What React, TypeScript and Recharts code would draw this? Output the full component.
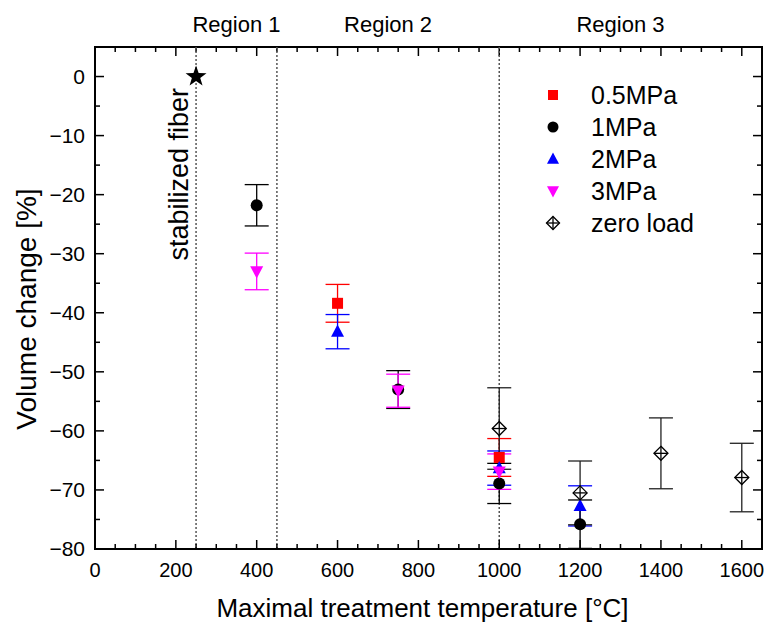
import React from 'react';
import {
  ScatterChart, Scatter, XAxis, YAxis, ErrorBar, ReferenceLine,
} from 'recharts';

const FONT = '"Liberation Sans", Arial, Helvetica, sans-serif';

// 0.5 MPa
const temps05 = [600, 1000];
const vol05 = [-38.4, -64.5];
const err05 = [3.2, 3.2];

// 1 MPa
const temps1 = [400, 750, 1000, 1200];
const vol1 = [-21.8, -53.0, -68.9, -75.8];
const err1 = [3.5, 3.2, 3.4, 4.1];

// 2 MPa
const temps2 = [600, 1000, 1200];
const vol2 = [-43.2, -66.3, -72.7];
const err2 = [2.9, 2.9, 3.4];

// 3 MPa
const temps3 = [400, 750, 1000];
const vol3 = [-33.0, -53.2, -66.9];
const err3 = [3.1, 2.8, 3.0];

// zero load
const tempsZero = [1000, 1200, 1400, 1600];
const volZero = [-59.6, -70.5, -63.8, -67.9];
const errZero = [6.9, 5.4, 6.0, 5.8];

// stabilized fiber
const tempsStab = [250];
const volStab = [0];

const regionBounds = [250, 450, 1000, 1600];
const regionNames = ['Region 1', 'Region 2', 'Region 3'];

const xDomain = [0, 1650];
const yDomain = [-80, 5];
const xLabels = [0, 200, 400, 600, 800, 1000, 1200, 1400, 1600];
const yLabels = [0, -10, -20, -30, -40, -50, -60, -70, -80];
const xTicks = Array.from({ length: 34 }, (_, i) => i * 50);
const yTicks = Array.from({ length: 18 }, (_, i) => 5 - i * 5);

// plot box (frame) placement in pixels
const PLOT_L = 95;
const PLOT_T = 47;
const PLOT_W = 667;
const PLOT_H = 502;
const xPx = (v: number) => PLOT_L + ((v - xDomain[0]) / (xDomain[1] - xDomain[0])) * PLOT_W;
const yPx = (v: number) => PLOT_T + ((yDomain[1] - v) / (yDomain[1] - yDomain[0])) * PLOT_H;

const zip = (t: number[], v: number[], e?: number[]) =>
  t.map((x, i) => ({ t: x, v: v[i], err: e ? e[i] : 0 }));

const fmt = (v: number) => (v < 0 ? `\u2212${Math.abs(v)}` : `${v}`);

const RED = '#ff0000';
const BLUE = '#0000ff';
const MAGENTA = '#ff00ff';

const square = (c: string, s: number) => (cx: number, cy: number) => (
  <rect x={cx - s / 2} y={cy - s / 2} width={s} height={s} fill={c} />
);
const circle = (c: string, s: number) => (cx: number, cy: number) => (
  <circle cx={cx} cy={cy} r={s / 2} fill={c} />
);
const triUp = (c: string, s: number) => (cx: number, cy: number) => (
  <polygon points={`${cx},${cy - s * 0.55} ${cx + s / 2},${cy + s * 0.4} ${cx - s / 2},${cy + s * 0.4}`} fill={c} />
);
const triDown = (c: string, s: number) => (cx: number, cy: number) => (
  <polygon points={`${cx},${cy + s * 0.55} ${cx + s / 2},${cy - s * 0.4} ${cx - s / 2},${cy - s * 0.4}`} fill={c} />
);
const diamondCross = (c: string, s: number) => (cx: number, cy: number) => (
  <g stroke={c} strokeWidth={1.3} fill="#fff">
    <polygon points={`${cx},${cy - s / 2} ${cx + s / 2},${cy} ${cx},${cy + s / 2} ${cx - s / 2},${cy}`} />
    <line x1={cx - s / 2} x2={cx + s / 2} y1={cy} y2={cy} />
    <line x1={cx} x2={cx} y1={cy - s / 2} y2={cy + s / 2} />
  </g>
);
const star = (c: string, r: number) => (cx: number, cy: number) => {
  const pts = Array.from({ length: 10 }, (_, i) => {
    const a = -Math.PI / 2 + (i * Math.PI) / 5;
    const rr = i % 2 === 0 ? r : r * 0.4;
    return `${cx + rr * Math.cos(a)},${cy + rr * Math.sin(a)}`;
  }).join(' ');
  return <polygon points={pts} fill={c} />;
};

const series = [
  { name: '0.5MPa', data: zip(temps05, vol05, err05), color: RED, plot: square(RED, 11), icon: square(RED, 10) },
  { name: '1MPa', data: zip(temps1, vol1, err1), color: '#000', plot: circle('#000', 12), icon: circle('#000', 11) },
  { name: '2MPa', data: zip(temps2, vol2, err2), color: BLUE, plot: triUp(BLUE, 13), icon: triUp(BLUE, 12) },
  { name: '3MPa', data: zip(temps3, vol3, err3), color: MAGENTA, plot: triDown(MAGENTA, 13), icon: triDown(MAGENTA, 12) },
  { name: 'zero load', data: zip(tempsZero, volZero, errZero), color: '#222', plot: diamondCross('#000', 14), icon: diamondCross('#000', 13) },
];

// ticks point inward; labels on bottom and left
const BottomTick = ({ x, y, payload }: any) => {
  const v = payload.value;
  const len = v % 200 === 0 ? 9 : 5;
  return (
    <g>
      <line x1={x} x2={x} y1={y} y2={y - len} stroke="#000" strokeWidth={1.5} />
      {xLabels.includes(v) && (
        <text x={x} y={y + 28} textAnchor="middle" fontSize={20} fontFamily={FONT} fill="#000">{v}</text>
      )}
    </g>
  );
};
const LeftTick = ({ x, y, payload }: any) => {
  const v = payload.value;
  const len = v % 10 === 0 ? 9 : 5;
  return (
    <g>
      <line x1={x} x2={x + len} y1={y} y2={y} stroke="#000" strokeWidth={1.5} />
      {yLabels.includes(v) && (
        <text x={x - 10} y={y} dy="0.35em" textAnchor="end" fontSize={21} fontFamily={FONT} fill="#000">{fmt(v)}</text>
      )}
    </g>
  );
};

const stabX = xPx(regionBounds[0]) - 8;
const stabY = PLOT_T + 41;

export default function App() {
  return (
    <div style={{ position: 'absolute', left: 0, top: 0, width: 766, height: 628, background: '#fff' }}>
      <ScatterChart width={766} height={628} margin={{ top: PLOT_T, right: 4, bottom: 10, left: 10 }}>
        <XAxis
          dataKey="t" type="number" domain={xDomain} ticks={xTicks} interval={0}
          height={69} tickSize={0} tickMargin={0} tickLine={false}
          axisLine={{ stroke: '#000', strokeWidth: 2 }} tick={<BottomTick />}
        />
        <YAxis
          dataKey="v" type="number" domain={yDomain} ticks={yTicks} interval={0}
          width={85} tickSize={0} tickMargin={0} tickLine={false}
          axisLine={{ stroke: '#000', strokeWidth: 2 }} tick={<LeftTick />}
        />
        {regionBounds.slice(0, 3).map((b) => (
          <ReferenceLine key={b} x={b} stroke="#555" strokeWidth={1.5} strokeDasharray="2 2" />
        ))}
        <Scatter
          name="stabilized fiber" data={zip(tempsStab, volStab)} fill="#000"
          isAnimationActive={false} shape={(p: any) => star('#000', 11)(p.cx, p.cy)}
        />
        {series.map((s) => (
          <Scatter
            key={s.name} name={s.name} data={s.data} fill={s.color} isAnimationActive={false}
            shape={(p: any) => s.plot(p.cx, p.cy)}
          >
            <ErrorBar dataKey="err" direction="y" width={12} stroke={s.color} strokeWidth={1.3} isAnimationActive={false} />
          </Scatter>
        ))}
        {/* top and right edges of the frame, with inward mirrored ticks */}
        <rect x={PLOT_L} y={PLOT_T} width={PLOT_W} height={PLOT_H} fill="none" stroke="#000" strokeWidth={2} />
        {xTicks.map((t) => (
          <line
            key={`tx${t}`} x1={xPx(t)} x2={xPx(t)} y1={PLOT_T} y2={PLOT_T + (t % 200 === 0 ? 9 : 5)}
            stroke="#000" strokeWidth={1.5}
          />
        ))}
        {yTicks.map((t) => (
          <line
            key={`ty${t}`} x1={PLOT_L + PLOT_W} x2={PLOT_L + PLOT_W - (t % 10 === 0 ? 9 : 5)} y1={yPx(t)} y2={yPx(t)}
            stroke="#000" strokeWidth={1.5}
          />
        ))}
        {regionNames.map((name, i) => (
          <text
            key={name} x={xPx((regionBounds[i] + regionBounds[i + 1]) / 2)} y={PLOT_T - 15}
            textAnchor="middle" fontSize={22} fontFamily={FONT} fill="#000"
          >
            {name}
          </text>
        ))}
        <text
          x={stabX} y={stabY} transform={`rotate(-90 ${stabX} ${stabY})`}
          textAnchor="end" fontSize={27} fontFamily={FONT} fill="#000"
        >
          stabilized fiber
        </text>
      </ScatterChart>
      <div style={{ position: 'absolute', left: 541, top: 79, fontFamily: FONT, fontSize: 25, color: '#000' }}>
        {series.map((s) => (
          <div key={s.name} style={{ display: 'flex', alignItems: 'center', height: 32 }}>
            <svg width={24} height={24} style={{ marginRight: 26 }}>{s.icon(12, 12)}</svg>
            <span>{s.name}</span>
          </div>
        ))}
      </div>
      <div style={{ position: 'absolute', left: 0, top: 309, width: 0, height: 0 }}>
        <div
          style={{
            position: 'absolute', left: 27, top: 0, transform: 'translate(-50%, -50%) rotate(-90deg)',
            whiteSpace: 'nowrap', fontFamily: FONT, fontSize: 28, color: '#000',
          }}
        >
          Volume change [%]
        </div>
      </div>
      <div
        style={{
          position: 'absolute', left: 89, width: 667, top: 593, textAlign: 'center',
          fontFamily: FONT, fontSize: 26, color: '#000',
        }}
      >
        Maximal treatment temperature [°C]
      </div>
    </div>
  );
}
